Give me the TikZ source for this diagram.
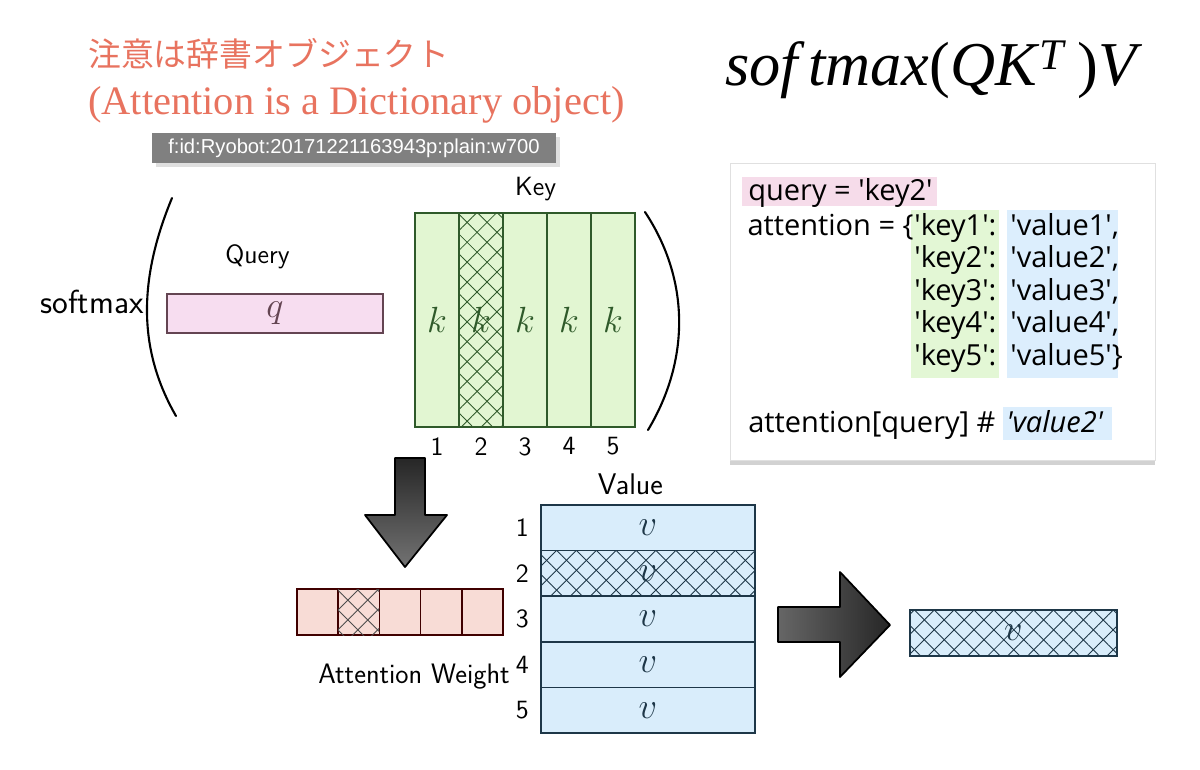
\documentclass[tikz,border=0pt]{standalone}
\usepackage{fontspec}
\setmainfont{Liberation Serif}
\newfontfamily\jpfont{Noto Sans CJK JP}
\newfontfamily\codefont[Ligatures=TeXOff]{Open Sans}
\newfontfamily\tipfont{Liberation Sans}
\usetikzlibrary{positioning,patterns.meta,shadows}
\definecolor{salmon}{HTML}{E8735F}
\definecolor{keygreen}{HTML}{E2F6D2}
\definecolor{keyline}{HTML}{2F5A2A}
\definecolor{valblue}{HTML}{D9EDFB}
\definecolor{valline}{HTML}{1E3748}
\definecolor{qpink}{HTML}{F7DDF0}
\definecolor{wpink}{HTML}{F8DCD6}
\definecolor{hlpink}{HTML}{F6DCEA}
\definecolor{hlgreen}{HTML}{E3F7D5}
\definecolor{hlblue}{HTML}{DCEEFD}
\begin{document}
\begin{tikzpicture}[x=0.02cm,y=-0.02cm,
	hand/.style={font=\sffamily\fontsize{15}{18}\selectfont},
	cell/.style={draw,line width=1pt,inner sep=0pt},
	kcol/.style={cell,fill=keygreen,draw=keyline,text=keyline,minimum width=0.88cm,minimum height=4.28cm,font=\fontsize{22}{24}\selectfont},
	vrow/.style={cell,fill=valblue,draw=valline,text=valline,minimum width=4.28cm,minimum height=0.912cm,font=\fontsize{20}{24}\selectfont},
	wcell/.style={cell,fill=wpink,draw=black!75!red,minimum width=0.824cm,minimum height=0.92cm},
	hatched/.style={postaction={pattern={Lines[angle=45,distance=8pt,line width=0.5pt]},pattern color=#1},
		postaction={pattern={Lines[angle=-45,distance=8pt,line width=0.5pt]},pattern color=#1}},
	code/.style={anchor=base west,inner sep=0pt,font=\codefont\fontsize{16.5}{20}\selectfont},
	paren/.style={line width=1.2pt,line cap=round},
	bigarrow/.style={draw=black,line width=1pt,line join=round}]
	
	\useasboundingbox[fill=white] (0,0) rectangle (1200,769);
	
	\node[anchor=west,text=salmon,font=\jpfont\fontsize{18.7}{22}\selectfont] (title) at (82,54) {注意は辞書オブジェクト};
	\node[anchor=west,text=salmon,font=\fontsize{23}{27}\selectfont] (subtitle) at (82,105) {(Attention is a Dictionary object)};
	\node[fill=black!50,text=white,minimum width=8.08cm,minimum height=0.6cm,font=\tipfont\fontsize{11.5}{13}\selectfont,drop shadow={opacity=0.25}] (tag) at (354,148) {f:id:Ryobot:20171221163943p:plain:w700};
	\node[font=\fontsize{35.5}{40}\selectfont] (formula) at (934,70) {\textit{sof\,tmax}(\textit{QK}\textsuperscript{\textit{T}}\,)\textit{V}};
	
	% dictionary
	\node[fill=white,draw=black!12,minimum width=8.5cm,minimum height=5.94cm,drop shadow={opacity=0.35,shadow xshift=0pt,shadow yshift=-3pt}] (code) at (942.5,311.5) {};
	\fill[hlpink] (742,177) rectangle (937,206);
	\fill[hlgreen] (911,210) rectangle (999,378);
	\fill[hlblue] (1007,210) rectangle (1118,378);
	\fill[hlblue] (1003,407) rectangle (1112,440);
	\node[code] (c1) at (748,200) {query = 'key2'};
	\node[code,anchor=base east] (c2) at (914,235) {attention = \{};
	\foreach \i in {1,...,5}{
		\node[code] (key\i) at (914,{235+32.5*(\i-1)}) {'key\i':};
		\node[code] (val\i) at (1010,{235+32.5*(\i-1)}) {'value\i'\ifnum\i<5,\else\}\fi};
	}
	\node[code] (c3) at (748,432) {attention[query] \#};
	\node[code] (res) at (1006,432) {\itshape 'value2'};
	
	% softmax( q k )
	\node[hand,font=\sffamily\fontsize{19}{22}\selectfont] (softmax) at (92,302) {softmax};
	\draw[paren] (172,198) .. controls (138,280) and (138,350) .. (176,416);
	\node[cell,fill=qpink,draw=black!70!magenta,minimum width=4.32cm,minimum height=0.78cm,text=black!70!magenta,font=\fontsize{20}{24}\selectfont] (query) at (275,313.5) {$q$};
	\node[hand] (qlabel) [above=10pt of query, xshift=-10pt] {Query};
	\foreach \i in {1,...,5}
		\node[kcol] (k\i) at ({393+44*\i},320) {$k$};
	\node[kcol,hatched=keyline] at (k2) {$k$};
	\node[hand] (klabel) [above=3pt of k3, xshift=6pt] {Key};
	\foreach \i in {1,...,5}
		\node[hand] (kn\i) [below=2pt of k\i] {\i};
	\draw[paren] (645,212) .. controls (690,280) and (690,360) .. (648,430);
	
	% attention weight
	\filldraw[bigarrow,top color=black!85,bottom color=black!55] (395,458) -- (425,458) -- (425,515) -- (447,515) -- (405,567) -- (365,515) -- (395,515) -- cycle;
	\foreach \i in {1,...,5}
		\node[wcell] (w\i) at ({276.4+41.2*\i},612) {};
	\node[wcell,hatched=black!70] at (w2) {};
	\node[hand,font=\sffamily\fontsize{16}{20}\selectfont] (wlabel) at (414,677) {Attention Weight};
	
	% value
	\foreach \i in {1,...,5}
		\node[vrow] (v\i) at (648,{482.2+45.6*\i}) {$v$};
	\node[vrow,hatched=valline] at (v2) {$v$};
	\node[hand,font=\sffamily\fontsize{17}{20}\selectfont] (vlabel) [above=2pt of v1, xshift=-10pt] {Value};
	\foreach \i in {1,...,5}
		\node[hand] (vn\i) [left=3pt of v\i] {\i};
	
	% output
	\filldraw[bigarrow,left color=black!60,right color=black!85] (778,607) -- (840,607) -- (840,572) -- (890,625) -- (840,677) -- (840,642) -- (778,642) -- cycle;
	\node[vrow,hatched=valline,minimum width=4.14cm,minimum height=0.92cm] (out) at (1013.5,633) {$v$};
	
\end{tikzpicture}
\end{document}
